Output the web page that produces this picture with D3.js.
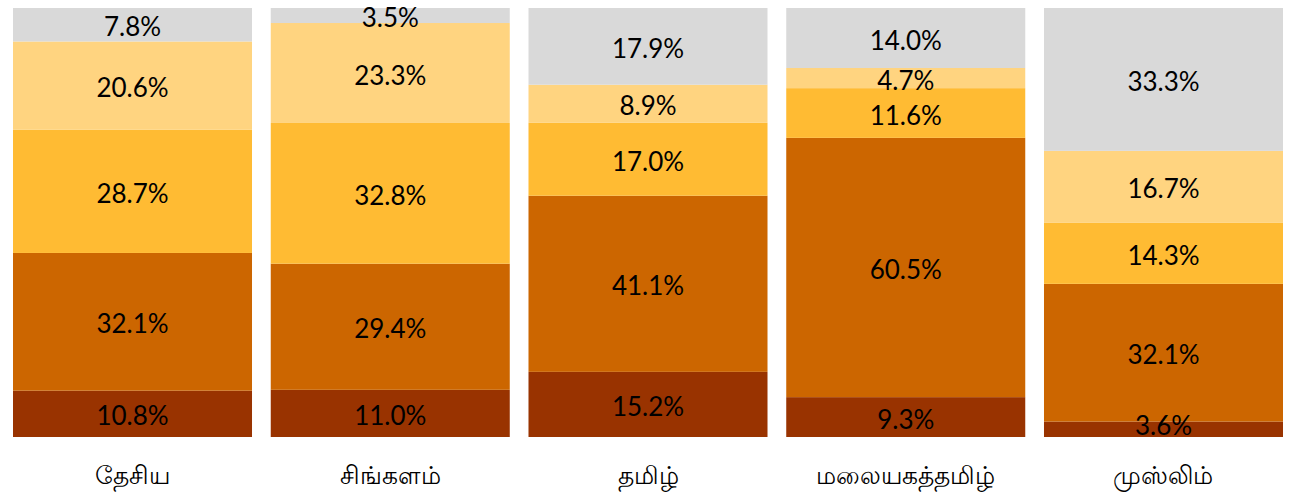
<!DOCTYPE html>
<html>
<head>
<meta charset="utf-8">
<script src="https://cdn.jsdelivr.net/npm/d3@7"></script>
<style>
body { margin: 0; background: #fff; }
.pct { font-family: Lato, "Open Sans", sans-serif; font-size: 26px; fill: #000; }
.cat { font-size: 25px; fill: #000; }
</style>
</head>
<body>
<svg width="1290" height="498"></svg>
<script>
var categories = ["தேசிய", "சிங்களம்", "தமிழ்", "மலையகத்தமிழ்", "முஸ்லிம்"];
// bottom to top
var s1 = [10.8, 11.0, 15.2, 9.3, 3.6];
var s2 = [32.1, 29.4, 41.1, 60.5, 32.1];
var s3 = [28.7, 32.8, 17.0, 11.6, 14.3];
var s4 = [20.6, 23.3, 8.9, 4.7, 16.7];
var s5 = [7.8, 3.5, 17.9, 14.0, 33.3];
var colors = ["#993300", "#cc6600", "#ffbb33", "#ffd480", "#d9d9d9"];

var series = [s1, s2, s3, s4, s5];
var svg = d3.select("svg");

var plotTop = 8, plotBottom = 437;

var xScale = d3.scaleBand().domain(categories).range([13, 1283]).paddingInner(0.0727);

var data = categories.map(function(c, i) {
  var row = {cat: c};
  series.forEach(function(s, k) { row["k" + k] = s[i]; });
  return row;
});
var keys = series.map(function(s, k) { return "k" + k; });

// normalise each bar so it fills the full height
var stack = d3.stack().keys(keys).offset(d3.stackOffsetExpand);
var layers = stack(data);

var yScale = d3.scaleLinear().domain([0, 1]).range([plotBottom, plotTop]);

var g = svg.append("g");

layers.forEach(function(layer, k) {
  g.selectAll(".bar" + k)
    .data(layer)
    .enter()
    .append("rect")
    .attr("class", "bar" + k)
    .attr("x", (d, i) => xScale(categories[i]))
    .attr("y", d => yScale(d[1]))
    .attr("width", xScale.bandwidth())
    .attr("height", d => yScale(d[0]) - yScale(d[1]))
    .attr("fill", colors[k]);
});

layers.forEach(function(layer, k) {
  g.selectAll(".lab" + k)
    .data(layer)
    .enter()
    .append("text")
    .attr("class", "pct")
    .attr("x", (d, i) => xScale(categories[i]) + xScale.bandwidth() / 2)
    .attr("y", function(d) {
      var y = (yScale(d[0]) + yScale(d[1])) / 2 + 5;
      return Math.max(plotTop + 6, Math.min(plotBottom - 9, y));
    })
    .attr("text-anchor", "middle")
    .attr("dominant-baseline", "middle")
    .text((d, i) => series[k][i].toFixed(1) + "%");
});

g.selectAll(".cat")
  .data(categories)
  .enter()
  .append("text")
  .attr("class", "cat")
  .attr("x", d => xScale(d) + xScale.bandwidth() / 2)
  .attr("y", 478)
  .attr("text-anchor", "middle")
  .attr("dominant-baseline", "middle")
  .text(d => d);
</script>
</body>
</html>
